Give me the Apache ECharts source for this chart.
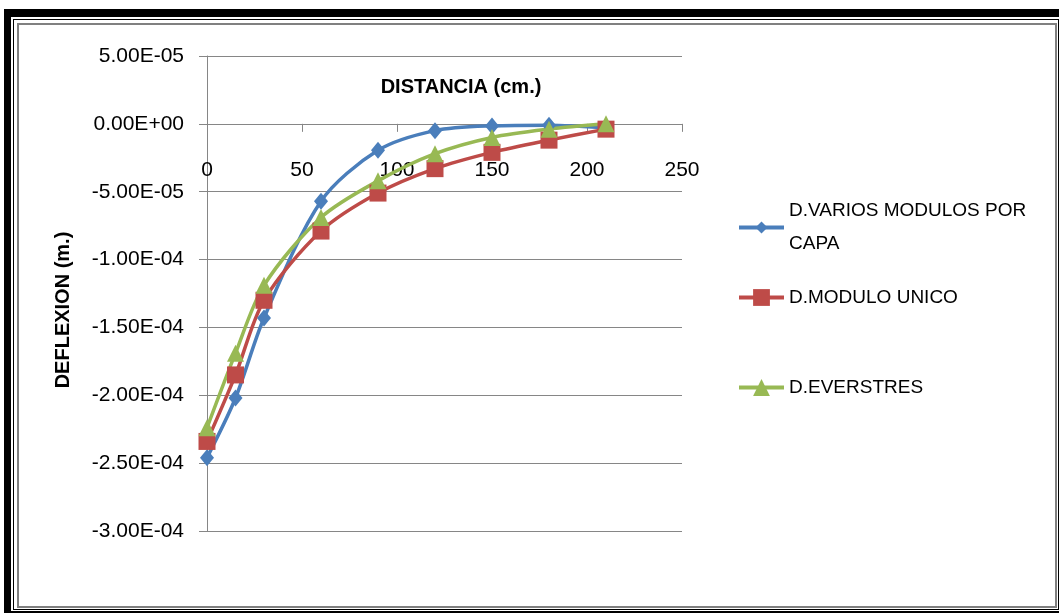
<!DOCTYPE html>
<html><head><meta charset="utf-8">
<script src="https://cdn.jsdelivr.net/npm/echarts@6/dist/echarts.min.js"></script>
<style>
html,body{margin:0;padding:0;background:#fff;overflow:hidden;width:1059px;height:613px;}
#chart{position:absolute;left:0;top:0;width:1059px;height:613px;}
.f{position:absolute;box-sizing:border-box;pointer-events:none;}
</style></head><body>
<div id="chart"></div>
<div class="f" style="left:4px;top:9px;width:1100px;height:609px;border:7px solid #000;border-top-width:8px;"></div>
<div class="f" style="left:13px;top:19px;width:1046px;height:591px;border:1.5px solid #000;"></div>
<div class="f" style="left:17px;top:23px;width:1040px;height:585px;border:2px solid #808080;"></div>
<script>
const distances = [0, 15, 30, 60, 90, 120, 150, 180, 210];
const variosModulos = [-2.46e-4, -2.02e-4, -1.43e-4, -5.7e-5, -1.95e-5, -5e-6, -1.5e-6, -1e-6, -3e-6];
const moduloUnico = [-2.34e-4, -1.85e-4, -1.30e-4, -7.9e-5, -5.1e-5, -3.3e-5, -2.1e-5, -1.2e-5, -3.9e-6];
const everstres = [-2.24e-4, -1.69e-4, -1.19e-4, -6.9e-5, -4.2e-5, -2.2e-5, -1.0e-5, -3.9e-6, 0];
const seriesNames = ['D.VARIOS MODULOS POR CAPA', 'D.MODULO UNICO', 'D.EVERSTRES'];
const xTitle = 'DISTANCIA (cm.)';
const yTitle = 'DEFLEXION (m.)';
const yMin = -3e-4, yMax = 5e-5, yStep = 5e-5;
const xMin = 0, xMax = 250, xStep = 50;

function sci(v) {
  if (Math.abs(v) < 1e-15) return '0.00E+00';
  const s = v.toExponential(2);
  const parts = s.split('e');
  const sign = parts[1][0] === '-' ? '-' : '+';
  const d = parts[1].replace(/[+-]/, '');
  return parts[0] + 'E' + sign + d.padStart(2, '0');
}
const pair = arr => distances.map((d, i) => [d, arr[i]]);
const FONT = '"Liberation Sans", Arial, sans-serif';
const GRID = '#868686';

const gTop = 56, gBottom = 82, H = 613;
const gHeight = H - gTop - gBottom;
const zeroOffset = gHeight * (yMax - 0) / (yMax - yMin);
const SMOOTH = 0.3;

const chart = echarts.init(document.getElementById('chart'), null, {renderer: 'canvas'});
chart.setOption({
  animation: false,
  backgroundColor: '#fff',
  grid: [
    {left: 207, right: 377, top: gTop, bottom: gBottom, containLabel: false},
    {left: 207, right: 377, top: gTop, height: zeroOffset, containLabel: false}
  ],
  xAxis: [
    {type: 'value', gridIndex: 0, min: xMin, max: xMax, interval: xStep, show: false},
    {type: 'value', gridIndex: 1, min: xMin, max: xMax, interval: xStep,
     axisLine: {onZero: false, lineStyle: {color: GRID, width: 1}},
     axisTick: {show: true, length: 8, lineStyle: {color: GRID}},
     axisLabel: {margin: 36, fontSize: 21, color: '#000', fontFamily: FONT},
     splitLine: {show: false}}
  ],
  yAxis: [
    {type: 'value', gridIndex: 0, min: yMin, max: yMax, interval: yStep,
     axisLine: {show: true, onZero: false, lineStyle: {color: GRID, width: 1}},
     axisTick: {show: true, length: 8, lineStyle: {color: GRID}},
     axisLabel: {margin: 23, fontSize: 21, color: '#000', fontFamily: FONT, formatter: sci},
     splitLine: {show: true, lineStyle: {color: GRID, width: 1}}},
    {type: 'value', gridIndex: 1, min: 0, max: yMax, show: false}
  ],
  legend: [
    {data: [seriesNames[0]], left: 737, top: 178, padding: 0, itemWidth: 45, itemHeight: 15,
     lineStyle: {width: 4},
     formatter: () => 'D.VARIOS MODULOS POR\nCAPA',
     textStyle: {fontSize: 19, color: '#000', fontFamily: FONT, lineHeight: 33, padding: [33, 0, 0, 0]}},
    {data: [seriesNames[1]], left: 737, top: 288, padding: 0, itemWidth: 45, itemHeight: 21,
     lineStyle: {width: 4},
     textStyle: {fontSize: 19, color: '#000', fontFamily: FONT}},
    {data: [seriesNames[2]], left: 737, top: 378, padding: 0, itemWidth: 45, itemHeight: 21,
     lineStyle: {width: 4},
     textStyle: {fontSize: 19, color: '#000', fontFamily: FONT}}
  ],
  graphic: [
    {type: 'text', x: 461, y: 87, style: {text: xTitle, align: 'center', verticalAlign: 'middle', font: 'bold 20px ' + FONT, fill: '#000'}},
    {type: 'text', x: 63, y: 310, rotation: Math.PI / 2, style: {text: yTitle, align: 'center', verticalAlign: 'middle', font: 'bold 20px ' + FONT, fill: '#000'}}
  ],
  series: [
    {name: seriesNames[0], type: 'line', xAxisIndex: 0, yAxisIndex: 0, smooth: SMOOTH, data: pair(variosModulos),
     symbol: 'diamond', symbolSize: [14, 17], showAllSymbol: true,
     lineStyle: {color: '#4A7EBB', width: 3.5}, itemStyle: {color: '#4A7EBB'}},
    {name: seriesNames[1], type: 'line', xAxisIndex: 0, yAxisIndex: 0, smooth: SMOOTH, data: pair(moduloUnico),
     symbol: 'rect', symbolSize: 17, showAllSymbol: true,
     lineStyle: {color: '#BE4B48', width: 3.5}, itemStyle: {color: '#BE4B48'}},
    {name: seriesNames[2], type: 'line', xAxisIndex: 0, yAxisIndex: 0, smooth: SMOOTH, data: pair(everstres),
     symbol: 'triangle', symbolSize: 17, showAllSymbol: true,
     lineStyle: {color: '#98B954', width: 3.5}, itemStyle: {color: '#98B954'}}
  ]
});
</script>
</body></html>
